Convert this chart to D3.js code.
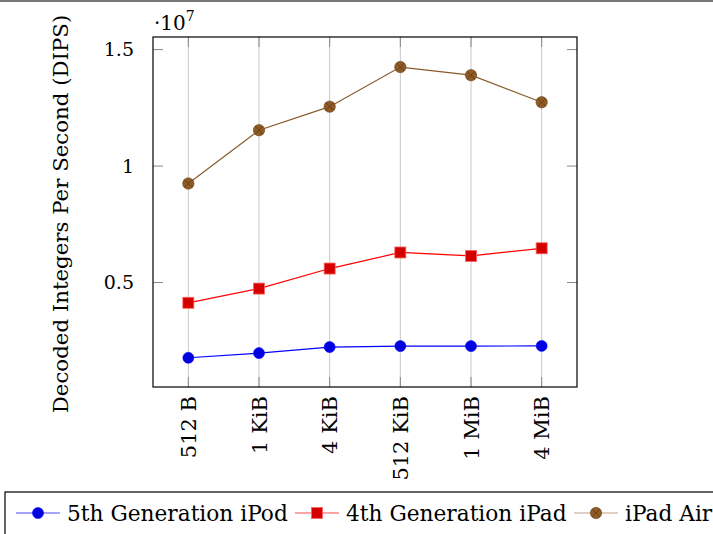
<html>
<head>
<script src="https://d3js.org/d3.v7.min.js"></script>
<style>
  body { margin: 0; background: #fff; }
  text { font-family: "DejaVu Serif", serif; fill: #000; }
</style>
</head>
<body>
<div id="viz"></div>
<script>
// data (values in units of 10^7 decoded integers per second)
const sizes = ["512 B", "1 KiB", "4 KiB", "512 KiB", "1 MiB", "4 MiB"];
const ipod5 = [0.177, 0.197, 0.223, 0.227, 0.227, 0.228];
const ipad4 = [0.413, 0.474, 0.560, 0.629, 0.614, 0.647];
const ipadAir = [0.925, 1.154, 1.255, 1.425, 1.390, 1.274];
const yTicks = [0.5, 1, 1.5];
const seriesNames = ["5th Generation iPod", "4th Generation iPad", "iPad Air"];

const width = 713, height = 534;
const plot = { left: 153, right: 577, top: 37, bottom: 387 };

const svg = d3.select("#viz").append("svg").attr("width", width).attr("height", height);

// thin rule along the very top
svg.append("rect").attr("x", 0).attr("y", 0).attr("width", width).attr("height", 2).attr("fill", "#777");

const x = d3.scalePoint().domain(sizes).range([plot.left, plot.right]).padding(0.5);
const y = d3.scaleLinear().domain([0.0515, 1.554]).range([plot.bottom, plot.top]);

// vertical grid
svg.append("g").selectAll("line").data(sizes).join("line")
  .attr("x1", d => x(d)).attr("x2", d => x(d))
  .attr("y1", plot.top).attr("y2", plot.bottom)
  .attr("stroke", "#c8c8c8").attr("stroke-width", 1);

// ticks (inside, both sides)
const tl = 10;
const tickG = svg.append("g").attr("stroke", "#888").attr("stroke-width", 1);
sizes.forEach(d => {
  tickG.append("line").attr("x1", x(d)).attr("x2", x(d)).attr("y1", plot.bottom).attr("y2", plot.bottom - tl);
  tickG.append("line").attr("x1", x(d)).attr("x2", x(d)).attr("y1", plot.top).attr("y2", plot.top + tl);
});
yTicks.forEach(v => {
  tickG.append("line").attr("x1", plot.left).attr("x2", plot.left + tl).attr("y1", y(v)).attr("y2", y(v));
  tickG.append("line").attr("x1", plot.right).attr("x2", plot.right - tl).attr("y1", y(v)).attr("y2", y(v));
});

// frame
svg.append("rect").attr("x", plot.left).attr("y", plot.top)
  .attr("width", plot.right - plot.left).attr("height", plot.bottom - plot.top)
  .attr("fill", "none").attr("stroke", "#000").attr("stroke-width", 1.2);

// y tick labels
svg.append("g").selectAll("text").data(yTicks).join("text")
  .attr("x", plot.left - 19).attr("y", d => y(d)).attr("dy", "0.36em")
  .attr("text-anchor", "end").style("font-size", "19px")
  .text(d => d);

// scale factor
const sf = svg.append("text").attr("x", 154).attr("y", 30).style("font-size", "20px");
sf.append("tspan").text("\u00b710");
sf.append("tspan").attr("dy", -9).style("font-size", "14px").text("7");

// x tick labels (rotated)
svg.append("g").selectAll("text").data(sizes).join("text")
  .attr("transform", d => `translate(${x(d)},${plot.bottom + 9}) rotate(-90)`)
  .attr("text-anchor", "end").attr("dy", "0.36em")
  .style("font-size", "21px").text(d => d);

// y axis label
svg.append("text")
  .attr("transform", `translate(60,${(plot.top + plot.bottom) / 2 + 2}) rotate(-90)`)
  .attr("text-anchor", "middle").attr("dy", "0.36em")
  .style("font-size", "21.3px").text("Decoded Integers Per Second (DIPS)");

const series = [
  { name: seriesNames[0], values: ipod5, line: "#0000ff", fill: "#0000e0", mark: "circle" },
  { name: seriesNames[1], values: ipad4, line: "#ff0000", fill: "#d40000", mark: "square" },
  { name: seriesNames[2], values: ipadAir, line: "#8a5a2a", fill: "#8f5a24", mark: "otimes" }
];

function drawMark(g, s, cx, cy) {
  if (s.mark === "circle") {
    g.append("circle").attr("cx", cx).attr("cy", cy).attr("r", 5.5).attr("fill", s.fill).attr("stroke", s.line).attr("stroke-width", 0.6);
  } else if (s.mark === "square") {
    g.append("rect").attr("x", cx - 5.5).attr("y", cy - 5.5).attr("width", 11).attr("height", 11)
      .attr("fill", s.fill).attr("stroke", "#ff6060").attr("stroke-width", 0.8);
  } else {
    const r = 5.7;
    g.append("circle").attr("cx", cx).attr("cy", cy).attr("r", r).attr("fill", s.fill).attr("stroke", "#6b4420").attr("stroke-width", 0.6);
    const k = r * 0.707;
    g.append("path").attr("d", `M${cx - k},${cy - k}L${cx + k},${cy + k}M${cx - k},${cy + k}L${cx + k},${cy - k}`)
      .attr("stroke", "#5a3818").attr("stroke-width", 0.7);
  }
}

const line = d3.line().x((d, i) => x(sizes[i])).y(d => y(d));
series.forEach(s => {
  svg.append("path").datum(s.values).attr("d", line)
    .attr("fill", "none").attr("stroke", s.line).attr("stroke-width", 1.2);
  const g = svg.append("g");
  s.values.forEach((v, i) => drawMark(g, s, x(sizes[i]), y(v)));
});

// legend
svg.append("rect").attr("x", 5).attr("y", 492).attr("width", width).attr("height", 60)
  .attr("fill", "#fff").attr("stroke", "#000").attr("stroke-width", 1.2);
const legX = [16, 295, 574];
const ly = 513;
series.forEach((s, i) => {
  const lx = legX[i];
  const g = svg.append("g");
  g.append("line").attr("x1", lx).attr("x2", lx + 44).attr("y1", ly).attr("y2", ly)
    .attr("stroke", s.line).attr("stroke-opacity", s.mark === "otimes" ? 0.55 : 0.7).attr("stroke-width", 1.2);
  drawMark(g, s, lx + 22, ly);
  g.append("text").attr("x", lx + 51).attr("y", ly).attr("dy", "0.36em")
    .style("font-size", "21.7px").text(s.name);
});
</script>
</body>
</html>
